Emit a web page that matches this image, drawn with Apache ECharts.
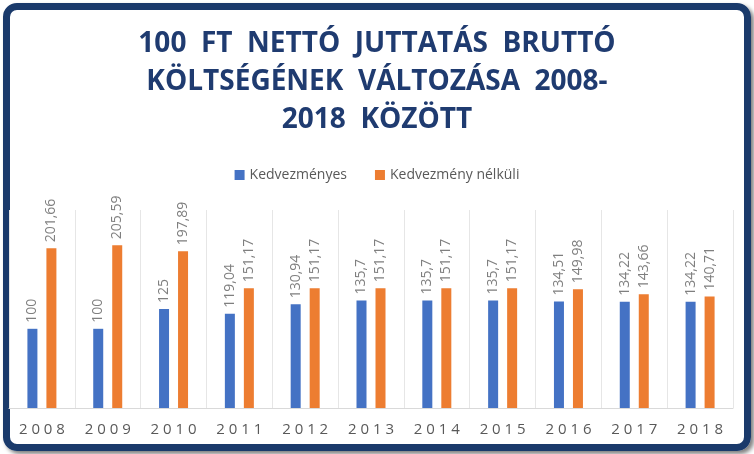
<!DOCTYPE html>
<html><head><meta charset="utf-8">
<script src="https://cdn.jsdelivr.net/npm/echarts@6/dist/echarts.min.js"></script>
<style>
html,body{margin:0;padding:0;background:#fff;}
#frame{position:absolute;left:3px;top:3px;width:734px;height:434px;border:7px solid #1a3a6b;border-radius:14px;box-shadow:3px 3px 4px rgba(0,0,0,0.5);}
#c{position:absolute;left:0;top:0;width:754px;height:454px;}
</style></head><body>
<div id="frame"></div>
<div id="c"></div>
<script>
const categories=['2008','2009','2010','2011','2012','2013','2014','2015','2016','2017','2018'];
const kedvezmenyes=[100,100,125,119.04,130.94,135.7,135.7,135.7,134.51,134.22,134.22];
const nelkuli=[201.66,205.59,197.89,151.17,151.17,151.17,151.17,151.17,149.98,143.66,140.71];
const fmt=p=>String(p.value).replace('.',',');
const lbl={show:true,position:'top',rotate:90,align:'left',verticalAlign:'middle',distance:6,color:'#7f7f7f',fontSize:14,fontFamily:'Open Sans',formatter:fmt};
const chart=echarts.init(document.getElementById('c'));
chart.setOption({
 animation:false,
 title:{text:'100  FT  NETTÓ  JUTTATÁS  BRUTTÓ\nKÖLTSÉGÉNEK  VÁLTOZÁSA  2008-\n2018  KÖZÖTT',left:'center',top:20,
  textStyle:{fontFamily:'Open Sans',fontWeight:'bold',fontSize:28,color:'#1f3b70',lineHeight:38}},
 legend:{top:163,left:'center',itemWidth:10,itemHeight:10,itemGap:28,icon:'rect',
  textStyle:{fontFamily:'Open Sans',fontSize:14,color:'#595959'}},
 grid:{left:9,right:21,top:210,bottom:46,containLabel:false},
 xAxis:{type:'category',data:categories,
  axisLine:{lineStyle:{color:'#d9d9d9'}},axisTick:{show:true,length:0},
  splitLine:{show:true,lineStyle:{color:'#e6e6e6'}},
  axisLabel:{color:'#595959',fontSize:15,fontFamily:'Open Sans',margin:14,formatter:v=>v.split('').join(' ')}},
 yAxis:{type:'value',min:0,max:250,show:false,splitLine:{show:false}},
 series:[
  {name:'Kedvezményes',type:'bar',data:kedvezmenyes,barWidth:10,barGap:'90%',itemStyle:{color:'#4472c4'},label:lbl},
  {name:'Kedvezmény nélküli',type:'bar',data:nelkuli,barWidth:10,itemStyle:{color:'#ed7d31'},label:lbl}
 ]
});
</script></body></html>
